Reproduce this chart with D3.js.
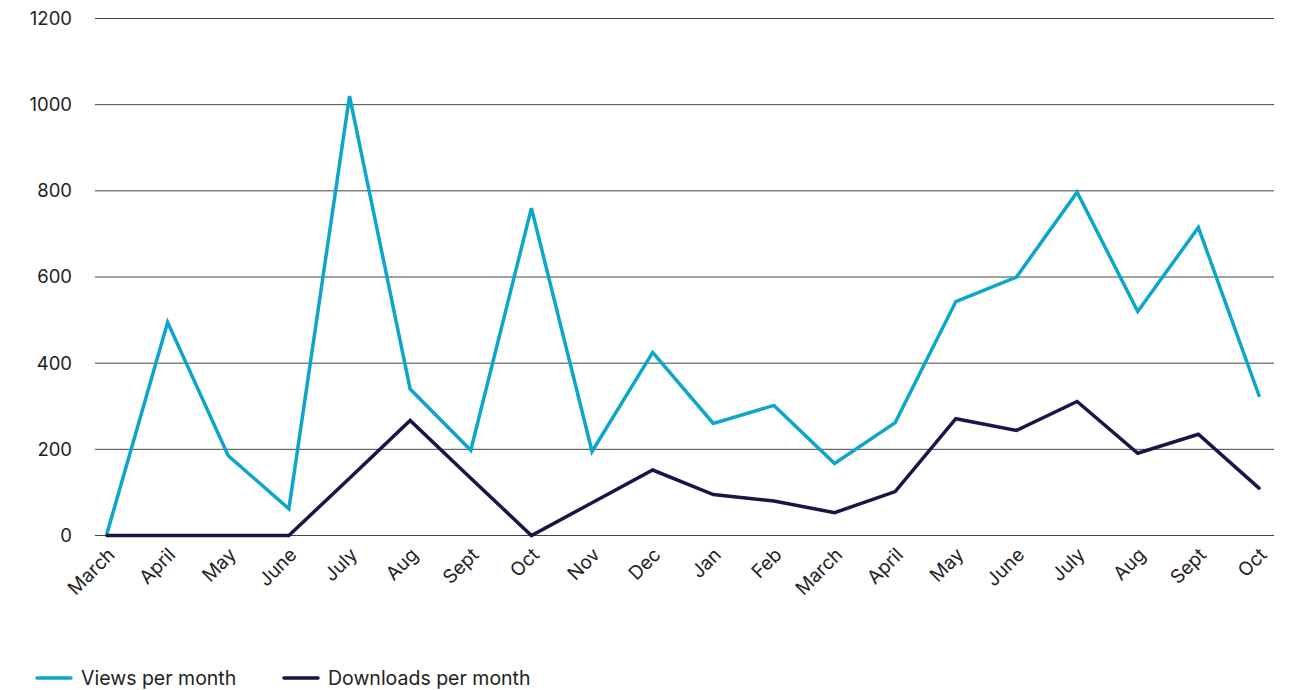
<!DOCTYPE html>
<html>
<head>
<meta charset="utf-8">
<script src="https://cdn.jsdelivr.net/npm/d3@7"></script>
<style>
  body { margin: 0; background: #fff; }
  svg { display: block; font-family: Inter, "Noto Sans", sans-serif; }
</style>
</head>
<body>
<svg id="chart" width="1304" height="690"></svg>
<script>
const months = ["March", "April", "May", "June", "July", "Aug", "Sept", "Oct", "Nov", "Dec",
  "Jan", "Feb", "March", "April", "May", "June", "July", "Aug", "Sept", "Oct"];
const views = [5, 495, 185, 62, 1020, 340, 198, 760, 195, 425,
  260, 302, 167, 262, 543, 600, 797, 520, 715, 325];
const downloads = [0, 0, 0, 0, 133, 267, 133, 0, 76, 152,
  95, 80, 53, 102, 271, 244, 311, 191, 235, 110];
const yTicks = [0, 200, 400, 600, 800, 1000, 1200];
const seriesNames = ["Views per month", "Downloads per month"];
const seriesColors = ["#0ba6c9", "#16164a"];

const svg = d3.select("#chart");
const idx = months.map((m, i) => i);

const x = d3.scalePoint().domain(idx).range([107, 1259]);
const y = d3.scaleLinear().domain([0, 1200]).range([535.5, 18.5]);
const gridLeft = 95, gridRight = 1274;

// gridlines + y labels
const grid = svg.append("g");
yTicks.forEach(t => {
  grid.append("line")
    .attr("x1", gridLeft).attr("x2", gridRight)
    .attr("y1", y(t)).attr("y2", y(t))
    .attr("stroke", "#444").attr("stroke-width", 1);
  grid.append("text")
    .attr("x", 72).attr("y", y(t)).attr("dy", "0.35em")
    .attr("text-anchor", "end")
    .attr("fill", "#222")
    .style("font-size", "18.5px")
    .text(t);
});

// x labels, rotated
const xl = svg.append("g");
idx.forEach(i => {
  const px = x(i) + 9, py = 556;
  xl.append("text")
    .attr("x", px).attr("y", py)
    .attr("text-anchor", "end")
    .attr("fill", "#222")
    .style("font-size", "19px")
    .attr("transform", "rotate(-45," + px + "," + py + ")")
    .text(months[i]);
});

// lines
const line = d3.line().x((d, i) => x(i)).y(d => y(d));
[views, downloads].forEach((s, k) => {
  svg.append("path")
    .datum(s)
    .attr("fill", "none")
    .attr("stroke", seriesColors[k])
    .attr("stroke-width", 3.5)
    .attr("stroke-linejoin", "miter")
    .attr("stroke-linecap", "round")
    .attr("d", line);
});

// legend
const legX = [37, 284];
seriesNames.forEach((n, k) => {
  const g = svg.append("g").attr("transform", "translate(" + legX[k] + ",678)");
  g.append("line")
    .attr("x1", 0).attr("x2", 34).attr("y1", 0).attr("y2", 0)
    .attr("stroke", seriesColors[k]).attr("stroke-width", 3.5)
    .attr("stroke-linecap", "round");
  g.append("text")
    .attr("x", 44).attr("y", 0).attr("dy", "0.35em")
    .attr("fill", "#222")
    .style("font-size", "19.5px")
    .text(n);
});
</script>
</body>
</html>
